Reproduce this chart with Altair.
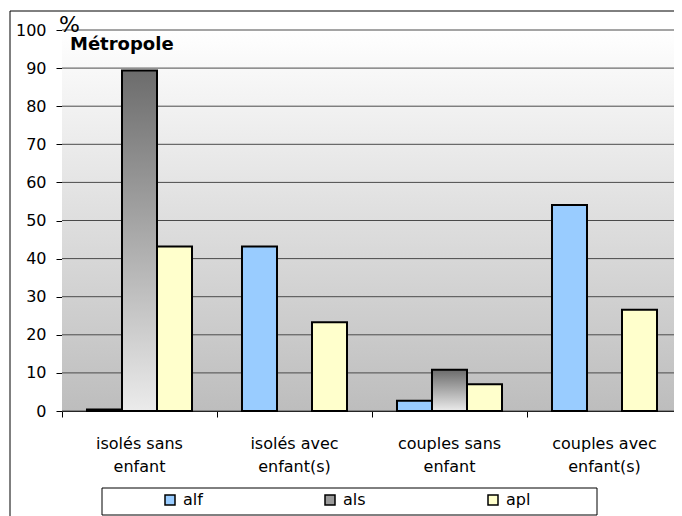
import altair as alt
import pandas as pd

categories = ["isolés sans enfant", "isolés avec enfant(s)", "couples sans enfant", "couples avec enfant(s)"]
series = ["alf", "als", "apl"]
alf = [0.4, 43.2, 2.7, 54.1]
als = [89.4, 0, 10.8, 0]
apl = [43.2, 23.3, 7.0, 26.6]
y_ticks = [0, 10, 20, 30, 40, 50, 60, 70, 80, 90, 100]
panel_label = ["Métropole"]
unit_label = ["%"]
colors = ["#99CCFF", "#9A9A9A", "#FFFFCC"]

rows = []
for i, c in enumerate(categories):
    for s, vals in zip(series, [alf, als, apl]):
        if vals[i] > 0:
            rows.append({"category": c, "series": s, "value": vals[i]})
df = pd.DataFrame(rows)

W, H = 620, 381
FONT = "DejaVu Sans"

bg_gradient = {
    "gradient": "linear", "x1": 0, "y1": 0, "x2": 0, "y2": 1,
    "stops": [{"offset": 0, "color": "#ffffff"}, {"offset": 1, "color": "#bdbdbd"}],
}
als_gradient = {
    "gradient": "linear", "x1": 0, "y1": 0, "x2": 0, "y2": 1,
    "stops": [{"offset": 0, "color": "#6c6c6c"}, {"offset": 1, "color": "#ebebeb"}],
}

x_enc = alt.X(
    "category:N", sort=categories,
    scale=alt.Scale(domain=categories, paddingInner=0, paddingOuter=0),
    axis=alt.Axis(
        title=None, labelAngle=0, bandPosition=0,
        labelExpr="[substring(datum.label, 0, indexof(datum.label, ' enfant')), substring(datum.label, indexof(datum.label, ' enfant') + 1)]",
        labelFont=FONT, labelFontSize=16, labelColor="black", labelLineHeight=23,
        labelPadding=18, tickSize=6, tickColor="black", domainColor="black",
        domainWidth=1, grid=False,
    ),
)
xoff_enc = alt.XOffset(
    "series:N", scale=alt.Scale(domain=series, paddingInner=0, paddingOuter=0.714)
)
y_scale = alt.Scale(domain=[0, 100], nice=False)
y_enc = alt.Y(
    "value:Q",
    scale=y_scale,
    axis=alt.Axis(
        values=y_ticks, title=None,
        labelFont=FONT, labelFontSize=16, labelColor="black", labelPadding=10,
        tickSize=6, tickColor="black", domainColor="black", grid=False,
        labelOverlap=False,
    ),
)

one = pd.DataFrame({"t": panel_label, "u": unit_label})

background = alt.Chart(one).mark_rect(fill=bg_gradient).encode(
    x=alt.value(0), x2=alt.value(W), y=alt.value(0), y2=alt.value(H)
)

grid = alt.Chart(pd.DataFrame({"value": y_ticks})).mark_rule(
    color="#4a4a4a", strokeWidth=1
).encode(y=y_enc)

base = alt.Chart(df).encode(x=x_enc, xOffset=xoff_enc, y=y_enc)

bars = base.transform_filter(alt.datum.series != "als").mark_bar(
    stroke="black", strokeWidth=2
).encode(
    color=alt.Color(
        "series:N",
        scale=alt.Scale(domain=series, range=colors),
        legend=alt.Legend(
            title=None, orient="none", legendX=100, legendY=462,
            direction="horizontal", symbolType="square", symbolSize=100,
            symbolStrokeColor="black", symbolStrokeWidth=1.5,
            labelFont=FONT, labelFontSize=16, labelColor="black",
            labelOffset=5, columnPadding=119, padding=0,
        ),
    )
)

als_bars = base.transform_filter(alt.datum.series == "als").mark_bar(
    stroke="black", strokeWidth=2, fill=als_gradient
)

label = alt.Chart(one).mark_text(
    align="left", baseline="alphabetic", font=FONT, fontSize=18,
    fontWeight="bold", color="black"
).encode(x=alt.value(8), y=alt.value(20), text="t:N")

unit = alt.Chart(one).mark_text(
    align="left", baseline="alphabetic", font=FONT, fontSize=22,
    color="black"
).encode(x=alt.value(-3), y=alt.value(2), text="u:N")

outer = alt.Chart(one).mark_rect(fillOpacity=0, stroke="black", strokeWidth=1).encode(
    x=alt.value(-52), x2=alt.value(W + 80), y=alt.value(-19), y2=alt.value(H + 200)
)
legend_box = alt.Chart(one).mark_rect(fillOpacity=0, stroke="black", strokeWidth=1).encode(
    x=alt.value(40), x2=alt.value(535), y=alt.value(458), y2=alt.value(485)
)

chart = alt.layer(background, grid, bars, als_bars, label, unit, outer, legend_box).properties(
    width=W, height=H,
    autosize=alt.AutoSizeParams(type="none"),
    padding={"left": 54, "top": 22, "right": -8, "bottom": 105},
    background="white",
).configure_view(strokeOpacity=0)

chart.save("out.html", embed_options={"renderer": "svg", "actions": False})
